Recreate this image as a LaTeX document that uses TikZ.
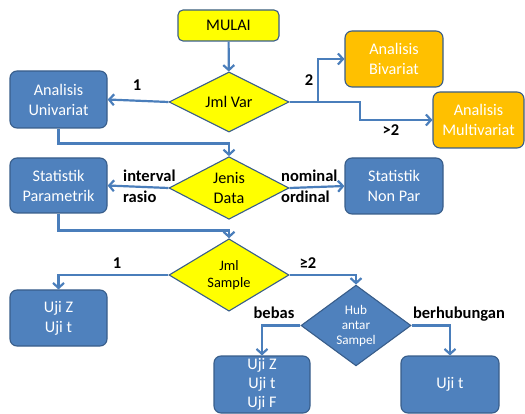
\documentclass[tikz,border=0pt]{standalone}
\usepackage{fontspec}
\setmainfont{Carlito}
\usetikzlibrary{shapes.geometric,arrows.meta}

\definecolor{boxblue}{HTML}{4F81BD}
\definecolor{edgeblue}{HTML}{385D8A}
\definecolor{linkblue}{HTML}{4A7EBB}
\definecolor{sunyellow}{HTML}{FFFF00}
\definecolor{amber}{HTML}{FFC000}

\tikzset{
  bluebox/.style={draw=edgeblue, line width=1.1pt, fill=boxblue, rounded corners=7pt,
    text=white, align=center, font=\fontsize{16.2}{20}\selectfont, inner sep=0pt},
  orangebox/.style={bluebox, fill=amber},
  startbox/.style={draw=edgeblue, line width=1.1pt, fill=sunyellow, rounded corners=5pt,
    text=black, align=center, font=\fontsize{16.2}{20}\selectfont, inner sep=0pt},
  yesno/.style={diamond, draw=edgeblue, line width=1.1pt, fill=sunyellow, inner sep=0pt,
    align=center, text=black, font=\fontsize{16.2}{19.5}\selectfont},
  hubdia/.style={yesno, fill=boxblue, text=white, font=\fontsize{13.2}{15}\selectfont},
  link/.style={draw=linkblue, line width=2.2pt,
    -{Straight Barb[length=5pt,width=11pt,line width=2.2pt]}},
  tag/.style={font=\bfseries\fontsize{16.5}{21}\selectfont, text=black, inner sep=0pt}
}

\begin{document}
\begin{tikzpicture}[x=1pt,y=-1pt]
  \useasboundingbox (0,0) rectangle (525,414);

  % nodes
  \node[startbox, minimum width=101pt, minimum height=31pt] (mulai) at (228.5,25.5) {MULAI};
  \node[yesno, minimum width=120pt, minimum height=60pt] (jmlvar) at (229,102) {Jml Var};
  \node[bluebox, minimum width=97pt, minimum height=57pt] (univ) at (58.5,99.5) {Analisis\\Univariat};
  \node[orangebox, minimum width=98pt, minimum height=56pt] (bivar) at (394,59) {Analisis\\Bivariat};
  \node[orangebox, minimum width=91pt, minimum height=56pt] (multivar) at (478.5,120) {Analisis\\Multivariat};

  \node[yesno, minimum width=120pt, minimum height=60pt] (jenis) at (229,188) {Jenis\\Data};
  \node[bluebox, minimum width=97pt, minimum height=55pt] (param) at (58.5,185.5) {Statistik\\Parametrik};
  \node[bluebox, minimum width=98pt, minimum height=56pt] (nonpar) at (394,186) {Statistik\\Non Par};

  \node[yesno, minimum width=120pt, minimum height=60pt,
        font=\fontsize{14.4}{17}\selectfont] (sample) at (229,275) {Jml\\Sample};
  \node[bluebox, minimum width=97pt, minimum height=56pt] (ujizt) at (58.5,318) {Uji Z\\Uji t};

  \node[hubdia, minimum width=110pt, minimum height=71pt] (hub) at (356,325.5) {Hub\\antar\\Sampel};
  \node[bluebox, minimum width=96pt, minimum height=57pt,
        font=\fontsize{16.2}{19}\selectfont] (ujiztf) at (262,384.5) {Uji Z\\Uji t\\Uji F};
  \node[bluebox, minimum width=98pt, minimum height=57pt] (ujit) at (450,384.5) {Uji t};

  % branch points
  \coordinate (split2) at (318,102);
  \coordinate (split3) at (360,102);

  % connectors
  \draw[link] (mulai) -- (jmlvar);
  \draw[link] (jmlvar.west) -- (univ.east);
  \draw[link] (jmlvar.east) -- (split2) |- (bivar.west);
  \draw[link] (split2) -- (split3) |- (multivar.west);
  \draw[link] (univ.south) -- ++(0,15) -| (jenis.north);
  \draw[link] (jenis.west) -- (param.east);
  \draw[link] (jenis.east) -- (nonpar.west);
  \draw[link] (param.south) -- ++(0,17) -| (sample.north);
  \draw[link] (sample.west) -| (ujizt.north);
  \draw[link] (sample.east) -| (hub.north);
  \draw[link] (hub.west) -| (ujiztf.north);
  \draw[link] (hub.east) -| (ujit.north);

  % branch labels
  \node[tag] (l1) at (137,85) {1};
  \node[tag] (l2) at (309,80) {2};
  \node[tag] (l3) at (391,130) {>2};
  \node[tag, anchor=west] (linterval) at (123,176) {interval};
  \node[tag, anchor=west] (lrasio) at (123,197) {rasio};
  \node[tag, anchor=west] (lnominal) at (281,176) {nominal};
  \node[tag, anchor=west] (lordinal) at (281,197) {ordinal};
  \node[tag] (l4) at (117,263) {1};
  \node[tag] (l5) at (308,263) {≥2};
  \node[tag] (lbebas) at (274,313) {bebas};
  \node[tag] (lberhub) at (459,314) {berhubungan};
\end{tikzpicture}
\end{document}
